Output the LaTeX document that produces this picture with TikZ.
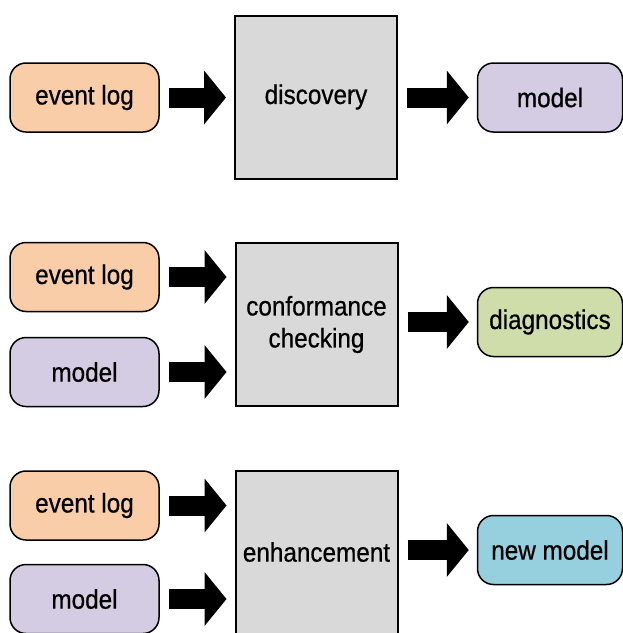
\documentclass[tikz,border=0pt]{standalone}
\usepackage{fontspec}
\setmainfont[FakeStretch=0.9, FakeBold=0.6]{Liberation Sans}
\usetikzlibrary{arrows.meta}

\definecolor{logpeach}{HTML}{F9CDA8}
\definecolor{modellilac}{HTML}{D4CCE3}
\definecolor{diaggreen}{HTML}{CFDDAA}
\definecolor{newblue}{HTML}{96D0DE}
\definecolor{taskgray}{HTML}{D9D9D9}

\tikzset{
    pill/.style={draw, line width=1.5pt, rounded corners=16pt, minimum width=149pt,
        minimum height=69pt, inner sep=0pt, font=\fontsize{27}{32}\selectfont},
    outpill/.style={pill, minimum width=145pt},
    task/.style={draw, line width=2pt, fill=taskgray, minimum width=162pt,
        minimum height=163pt, inner sep=0pt, align=center, font=\fontsize{27}{32}\selectfont},
    flow/.style={line width=20pt, -{Triangle[length=22pt, width=54pt, line width=0pt]},
        shorten <=9pt, shorten >=8pt},
}

\begin{document}
\begin{tikzpicture}[x=1pt, y=-1pt]
        \useasboundingbox (0, 0) rectangle (623, 633);

        \begin{scope}
            % Discovery
            \node[pill, fill=logpeach] (log1) at (84.5, 97.5) {event log};
            \node[task] (disc) at (316, 97) {discovery};
            \node[outpill, fill=modellilac] (mod1) at (550, 97.5) {model};

            \draw[flow] (log1.east) -- (log1.east -| disc.west);
            \draw[flow] (disc.east |- mod1.west) -- (mod1.west);
        \end{scope}

        \begin{scope}
            % Conformance checking
            \node[pill, fill=logpeach] (log2) at (84.5, 277) {event log};
            \node[pill, fill=modellilac] (mod2) at (84.5, 372) {model};
            \node[task] (conf) at (316.5, 324.5) {conformance\\checking};
            \node[outpill, fill=diaggreen] (diag) at (550, 322) {diagnostics};

            \draw[flow] (log2.east) -- (log2.east -| conf.west);
            \draw[flow] (mod2.east) -- (mod2.east -| conf.west);
            \draw[flow] (conf.east |- diag.west) -- (diag.west);
        \end{scope}

        \begin{scope}
            % Enhancement
            \node[pill, fill=logpeach] (log3) at (84.5, 505.5) {event log};
            \node[pill, fill=modellilac] (mod3) at (84.5, 599) {model};
            \node[task] (enh) at (316.5, 552) {enhancement};
            \node[outpill, fill=newblue] (newmod) at (550, 550) {new model};

            \draw[flow] (log3.east) -- (log3.east -| enh.west);
            \draw[flow] (mod3.east) -- (mod3.east -| enh.west);
            \draw[flow] (enh.east |- newmod.west) -- (newmod.west);
        \end{scope}
\end{tikzpicture}
\end{document}
